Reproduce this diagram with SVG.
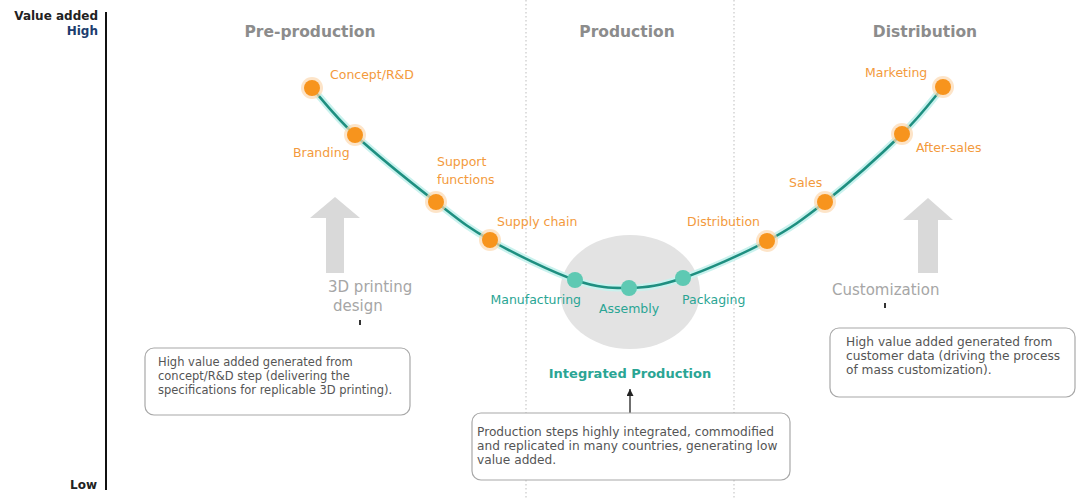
<svg xmlns="http://www.w3.org/2000/svg" width="1078" height="498" viewBox="0 0 1078 498">
<defs>
<marker id="ah" markerWidth="7" markerHeight="7" refX="7" refY="3.5" orient="auto" markerUnits="userSpaceOnUse"><path d="M0,0 L7,3.5 L0,7 Z" fill="#222"/></marker>
<style>
text{font-family:"DejaVu Sans","Liberation Sans",sans-serif}
.hdr{font-size:15.5px;font-weight:bold;fill:#8c8c8c;text-anchor:middle}
.ol{font-size:12.5px;fill:#f39a3c}
.tl{font-size:12.5px;fill:#2aa594}
.gl{font-size:15px;fill:#a6a6a6}
.box{fill:#fff;stroke:#a8a8a8;stroke-width:1.2}
.bt{font-size:11.5px;fill:#555}
.bt2{font-size:12.2px;fill:#555}
.on{fill:#f7941d}
.oh{fill:#fcd9b0;opacity:.7}
.tn{fill:#5ec9b3}
.ax{font-size:12px;font-weight:bold;text-anchor:end}
.div{stroke:#c8c8c8;stroke-width:1.2;stroke-dasharray:1.5 2.5;fill:none}
.big{fill:#d9d9d9}
</style>
</defs>
<rect width="1078" height="498" fill="#fff"/>
<g id="axis">
<line x1="106" y1="12" x2="106" y2="490" stroke="#111" stroke-width="2"/>
<text class="ax" x="98" y="20" fill="#222">Value added</text>
<text class="ax" x="98" y="35" fill="#1c3d6e">High</text>
<text class="ax" x="97" y="489" fill="#222">Low</text>
</g>
<g id="dividers">
<line class="div" x1="526" y1="0" x2="526" y2="498"/>
<line class="div" x1="734" y1="0" x2="734" y2="498"/>
</g>
<g id="headers">
<text class="hdr" x="310" y="37">Pre-production</text>
<text class="hdr" x="627" y="37">Production</text>
<text class="hdr" x="925" y="37">Distribution</text>
</g>
<g id="integrated-production">
<ellipse cx="630" cy="292" rx="70" ry="57" fill="#e3e3e3"/>
<text x="630" y="378" font-size="13px" font-weight="bold" fill="#2aa594" text-anchor="middle">Integrated Production</text>
</g>
<g id="arrow-3d">
<path class="big" d="M335,197 L360,218 L344,218 L344,273 L326,273 L326,218 L310,218 Z"/>
<text class="gl" x="328" y="292">3D printing</text>
<text class="gl" x="333" y="311">design</text>
</g>
<g id="arrow-custom">
<path class="big" d="M928,198 L953,220 L938,220 L938,273 L918,273 L918,220 L903,220 Z"/>
<text class="gl" x="832" y="295">Customization</text>
</g>
<g id="connectors">
<path d="M312,88 C319.2,95.8 334.3,116 355,135 C375.7,154 413.5,184.5 436,202 C458.5,219.5 466.8,227 490,240 C513.2,253 551.8,272 575,280 C598.2,288 611,288.3 629,288 C647,287.7 660,285.8 683,278 C706,270.2 743.3,253.7 767,241 C790.7,228.3 802.5,219.8 825,202 C847.5,184.2 882.3,153.2 902,134 C921.7,114.8 936.2,94.8 943,87" fill="none" stroke="#c9f2ee" stroke-width="7" stroke-linecap="round"/>
<path d="M312,88 C319.2,95.8 334.3,116 355,135 C375.7,154 413.5,184.5 436,202 C458.5,219.5 466.8,227 490,240 C513.2,253 551.8,272 575,280 C598.2,288 611,288.3 629,288 C647,287.7 660,285.8 683,278 C706,270.2 743.3,253.7 767,241 C790.7,228.3 802.5,219.8 825,202 C847.5,184.2 882.3,153.2 902,134 C921.7,114.8 936.2,94.8 943,87" fill="none" stroke="#1e8f80" stroke-width="2.5" stroke-linecap="round"/>
<line x1="630" y1="413" x2="630" y2="389" stroke="#222" stroke-width="1.3" marker-end="url(#ah)"/>
<line x1="360" y1="325" x2="360" y2="320" stroke="#333" stroke-width="2"/>
<line x1="885" y1="308" x2="885" y2="303" stroke="#333" stroke-width="2"/>
</g>
<g id="n-concept"><circle class="oh" cx="312" cy="88" r="11"/><circle class="on" cx="312" cy="88" r="8"/><text class="ol" x="330" y="79">Concept/R&amp;D</text></g>
<g id="n-branding"><circle class="oh" cx="355" cy="135" r="11"/><circle class="on" cx="355" cy="135" r="8"/><text class="ol" x="293" y="157">Branding</text></g>
<g id="n-support"><circle class="oh" cx="436" cy="202" r="11"/><circle class="on" cx="436" cy="202" r="8"/><text class="ol" x="437" y="166">Support</text><text class="ol" x="437" y="184">functions</text></g>
<g id="n-supply"><circle class="oh" cx="490" cy="240" r="11"/><circle class="on" cx="490" cy="240" r="8"/><text class="ol" x="497" y="226">Supply chain</text></g>
<g id="n-manufacturing"><circle class="tn" cx="575" cy="280" r="8"/><text class="tl" x="581" y="304" text-anchor="end">Manufacturing</text></g>
<g id="n-assembly"><circle class="tn" cx="629" cy="288" r="8"/><text class="tl" x="629" y="313" text-anchor="middle">Assembly</text></g>
<g id="n-packaging"><circle class="tn" cx="683" cy="278" r="8"/><text class="tl" x="682" y="304">Packaging</text></g>
<g id="n-distribution"><circle class="oh" cx="767" cy="241" r="11"/><circle class="on" cx="767" cy="241" r="8"/><text class="ol" x="760" y="226" text-anchor="end">Distribution</text></g>
<g id="n-sales"><circle class="oh" cx="825" cy="202" r="11"/><circle class="on" cx="825" cy="202" r="8"/><text class="ol" x="789" y="187">Sales</text></g>
<g id="n-aftersales"><circle class="oh" cx="902" cy="134" r="11"/><circle class="on" cx="902" cy="134" r="8"/><text class="ol" x="916" y="152">After-sales</text></g>
<g id="n-marketing"><circle class="oh" cx="943" cy="87" r="11"/><circle class="on" cx="943" cy="87" r="8"/><text class="ol" x="865" y="77">Marketing</text></g>
<g id="box-preproduction">
<rect class="box" x="145" y="348" width="265" height="67" rx="9"/>
<text class="bt" x="158" y="366">High value added generated from</text>
<text class="bt" x="158" y="380">concept/R&amp;D step (delivering the</text>
<text class="bt" x="158" y="394">specifications for replicable 3D printing).</text>
</g>
<g id="box-production">
<rect class="box" x="472" y="413" width="318" height="67" rx="9"/>
<text class="bt2" x="477" y="436">Production steps highly integrated, commodified</text>
<text class="bt2" x="477" y="450">and replicated in many countries, generating low</text>
<text class="bt2" x="477" y="464">value added.</text>
</g>
<g id="box-distribution">
<rect class="box" x="830" y="328" width="245" height="69" rx="9"/>
<text class="bt2" x="846" y="346">High value added generated from</text>
<text class="bt2" x="846" y="360">customer data (driving the process</text>
<text class="bt2" x="846" y="374">of mass customization).</text>
</g>
</svg>
